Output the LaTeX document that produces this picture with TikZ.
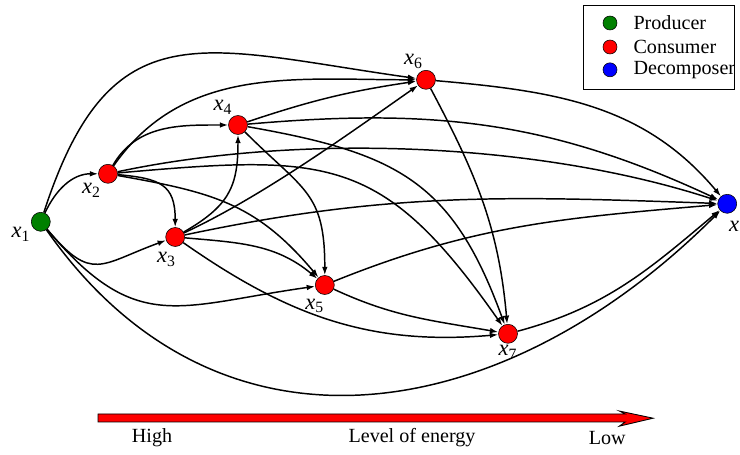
\documentclass[tikz,border=0pt]{standalone}
\usepackage{fontspec}
\setmainfont{Liberation Serif}
\usepackage{tikz}
\usetikzlibrary{arrows.meta, positioning}
\definecolor{prodgreen}{RGB}{0, 128, 0}
\definecolor{consred}{RGB}{255, 0, 0}
\definecolor{decblue}{RGB}{0, 0, 255}
\newcommand{\sv}[1]{\textit{x}\textsubscript{#1}}

\begin{document}
\begin{tikzpicture}[>={Latex[length=6pt,width=4pt]}, font=\fontsize{14.3}{17}\selectfont,
    species/.style={circle, draw, thin, minimum size=0.475cm, inner sep=0pt},
    flow/.style={->, line width=1.05pt},
    lab/.style={inner sep=1pt, font=\fontsize{16}{18}\selectfont}]
    \useasboundingbox (0,0) rectangle (18.5,11.375);
    % species
    \node[species, fill=prodgreen, label={[lab]205:\sv{1}}] (x1) at (1.02,5.83) {};
    \node[species, fill=consred, label={[lab]235:\sv{2}}] (x2) at (2.7,7.03) {};
    \node[species, fill=consred, label={[lab, xshift=4pt, yshift=-3pt]250:\sv{3}}] (x3) at (4.38,5.45) {};
    \node[species, fill=consred, label={[lab]115:\sv{4}}] (x4) at (5.95,8.25) {};
    \node[species, fill=consred, label={[lab, xshift=3pt, yshift=-2pt]250:\sv{5}}] (x5) at (8.12,4.25) {};
    \node[species, fill=consred, label={[lab]100:\sv{6}}] (x6) at (10.65,9.38) {};
    \node[species, fill=consred, label={[lab]270:\sv{7}}] (x7) at (12.7,3.03) {};
    \node[species, fill=decblue, label={[lab, xshift=-1pt, yshift=-4pt]-80:\textit{x}}] (xx) at (18.18,6.28) {};
    % flows from x1
    \draw[flow] (x1) to[out=65, in=180] (x2);
    \draw[flow] (x1) to[out=-50, in=200, looseness=1.5] (x3);
    \draw[flow] (x1) to[out=-50, in=188, looseness=1.3] (x5);
    \draw[flow] (x1) to[out=72, in=172, looseness=1.4] (x6);
    \draw[flow] (x1) to[out=-55, in=225, looseness=1.15] (xx);
    % flows from x2
    \draw[flow] (x2) to[out=60, in=180] (x4);
    \draw[flow] (x2) to[out=55, in=180] (x6);
    \draw[flow] (x2) to[out=-5, in=90, looseness=1.4] (x3);
    \draw[flow] (x2) to[out=12, in=162, looseness=0.8] (xx);
    \draw[flow] (x2) to[out=5, in=125, looseness=1.3] (x7);
    \draw[flow] (x2) to[out=-10, in=130, looseness=1.1] (x5);
    % flows from x3
    \draw[flow] (x3) to[out=30, in=270, looseness=1.2] (x4);
    \draw[flow] (x3) to[out=25, in=215, looseness=0.8] (x6);
    \draw[flow] (x3) to[out=12, in=178] (xx);
    \draw[flow] (x3) to[out=-5, in=140] (x5);
    \draw[flow] (x3) to[out=-35, in=185] (x7);
    % flows from x4
    \draw[flow] (x4) to[bend left=5] (x6);
    \draw[flow] (x4) to[out=5, in=155] (xx);
    \draw[flow] (x4) to[out=-45, in=90, looseness=1.3] (x5);
    \draw[flow] (x4) to[out=-10, in=110, looseness=1.2] (x7);
    % flows from x5, x6, x7
    \draw[flow] (x5) to[out=-25, in=170] (x7);
    \draw[flow] (x5) to[out=22, in=185] (xx);
    \draw[flow] (x6) to[out=-5, in=130] (xx);
    \draw[flow] (x6) to[out=-62, in=95] (x7);
    \draw[flow] (x7) to[out=15, in=220] (xx);
    % legend
    \draw[thin] (14.58,9.15) rectangle (18.35,11.25);
    \node[species, minimum size=0.35cm, fill=prodgreen] (lgp) at (15.25,10.8) {};
    \node[species, minimum size=0.35cm, fill=consred] (lgc) at (15.25,10.2) {};
    \node[species, minimum size=0.35cm, fill=decblue] (lgd) at (15.25,9.63) {};
    \node[right=0.4cm of lgp, inner sep=0pt] (lgptext) {Producer};
    \node[right=0.4cm of lgc, inner sep=0pt] (lgctext) {Consumer};
    \node[right=0.4cm of lgd, inner sep=0pt] (lgdtext) {Decomposer};
    % energy arrow
    \draw[fill=consred, line width=0.6pt] (2.45,1.025) -- (15.63,1.025) -- (15.48,1.1) -- (16.33,0.92)
        -- (15.48,0.72) -- (15.63,0.825) -- (2.45,0.825) -- cycle;
    \node (high) at (3.8,0.425) {High};
    \node (level) at (10.3,0.425) {Level of energy};
    \node (low) at (15.18,0.425) {Low};
\end{tikzpicture}
\end{document}
